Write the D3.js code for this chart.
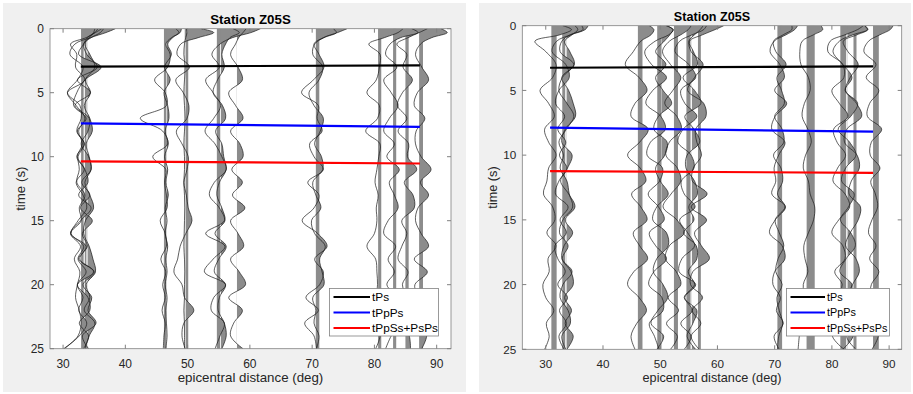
<!DOCTYPE html>
<html>
<head>
<meta charset="utf-8">
<script src="https://cdn.jsdelivr.net/npm/d3@7/dist/d3.min.js"></script>
<style>
body{margin:0;background:#fff;}
text{font-family:"Liberation Sans",Arial,sans-serif;fill:#262626;}
</style>
</head>
<body>
<svg id="fig" width="913" height="394"></svg>
<script>
// sample times (s) shared by every trace
var times=[0,0.3,0.7,1.2,2,3,4,5,6,7,8,9,10,11,12,13,14,15,16,17,18,19,20,21,22,23,24,25];
var xTicks=[30,40,50,60,70,80,90];
var yTicks=[0,5,10,15,20,25];
var legendLabels=["tPs","tPpPs","tPpSs+PsPs"];
var titleText="Station Z05S";

// left figure: epicentral distance of each trace, width of its shaded strip, amplitudes (deg)
var leftDist=[32.9,33.1,33.5,33.9,33.2,46.2,46.6,49.7,49.5,54.7,55.3,57.9,70.6,70.9,80.6,83.0,85.0,87.2];
var leftStrip=[0.4,0,0.25,0,0,0.35,0,0.4,0,0.5,0,0,0.55,0,0.5,0.5,0.5,0.6];
var leftAmps=[
 [5.5,4.0,1.5,-1.0,-1.8,0.3,-0.6,-2.2,-0.8,0.6,-0.4,0.2,-0.6,0.5,-0.8,0.3,0.9,-0.5,-1.6,0.4,-0.5,0.8,-0.6,0.3,-0.4,0.9,-0.3,-2.8],
 [2.5,2.0,0.8,0.2,-0.6,3.0,0.4,-0.9,-1.4,0.6,-0.8,0.3,-0.9,0.4,0.9,-0.6,1.4,-0.3,-1.9,0.6,-0.4,1.8,-0.8,0.9,1.2,-0.5,1.0,0.2],
 [3.0,2.5,1.0,-0.2,0.3,2.0,-1.2,0.9,-1.6,0.7,0.5,-0.6,0.6,1.0,-0.5,0.8,-0.7,1.2,-0.4,0.4,-1.0,1.5,-0.3,1.1,0.5,1.8,-0.4,0.6],
 [1.2,1.0,0.3,-0.4,0.4,1.2,-0.3,0.5,-0.5,0.4,0.8,-0.2,0.3,0.6,-0.4,0.4,1.0,-0.3,-0.6,0.3,0.9,1.3,-0.2,0.4,-0.5,1.2,0.3,-0.4],
 [3.0,2.0,0.5,-2.0,-1.0,-1.2,0.3,-2.5,-0.5,-0.3,-1.0,0.2,-0.8,-0.6,-1.0,0.3,-0.6,-0.3,-2.0,-0.4,-1.4,-0.5,-0.9,-1.2,-0.6,-0.3,-0.8,-3.0],
 [2.8,2.6,1.2,0.3,1.0,0.6,-1.5,0.2,0.4,-3.8,-0.2,0.6,-1.8,0.3,0.1,0.4,0.5,-0.6,0.2,0.4,-0.5,0.3,-0.2,0.2,-0.3,0.2,0.0,-0.1],
 [1.5,2.0,1.0,0.2,0.8,-0.3,0.6,-0.4,0.2,0.4,-0.2,0.3,-0.3,0.2,-0.1,0.3,-0.2,0.1,-0.2,0.2,-0.1,0.1,-0.2,0.1,-0.1,0.0,0.1,-0.1],
 [2.5,4.5,2.0,-0.8,-1.4,0.6,-1.6,-0.4,0.5,0.2,-1.5,-0.6,0.4,0.2,-0.3,0.1,0.4,1.0,0.0,-0.9,-1.3,-1.9,-0.6,-0.2,1.3,-0.3,-0.6,-0.1],
 [0.3,0.4,0.2,0.0,-0.1,0.1,0.0,-0.1,0.0,0.1,0.0,-0.1,0.0,0.0,-0.1,0.0,0.05,0.0,-0.05,-0.1,0.0,0.05,0.0,0.0,-0.1,0.0,0.0,0.0],
 [7.0,5.5,2.5,0.5,-0.8,0.4,-1.8,-0.6,0.6,-0.5,-1.9,-0.3,0.8,1.5,-0.4,-1.2,0.4,1.2,-1.8,1.3,-0.6,-2.0,1.4,-0.5,-0.9,1.2,0.5,-0.3],
 [2.0,3.0,1.5,0.8,0.2,0.6,-0.5,-1.2,0.3,0.8,-0.8,0.2,0.5,0.9,-0.2,-0.6,0.2,0.7,-0.9,0.9,-0.3,-1.0,0.8,-0.2,-0.4,0.6,0.9,0.2],
 [1.5,1.0,0.3,-0.2,-1.0,0.2,0.9,-1.3,-0.2,1.0,-1.0,0.5,1.0,-0.8,0.9,-0.7,1.3,-1.0,0.2,1.1,-1.0,0.4,1.4,-1.3,0.9,-0.5,-1.0,1.0],
 [5.0,3.5,1.2,-0.3,0.5,1.3,-0.4,-2.3,0.4,0.2,1.0,-1.0,-0.3,1.2,-1.3,0.5,-0.3,-2.2,0.3,1.8,-0.2,1.2,0.6,-1.6,0.4,-1.8,-0.3,0.1],
 [2.5,3.0,1.0,-0.5,-0.8,0.8,0.2,-1.4,-0.6,0.9,0.4,-0.5,0.6,0.8,-0.8,-0.3,0.5,-1.0,-0.5,1.2,0.3,0.7,1.0,-0.8,-0.3,-0.6,0.2,-0.2],
 [4.0,3.2,1.0,-1.5,0.3,0.2,-0.3,-1.8,0.2,-0.1,-2.0,0.3,0.1,-0.2,-0.5,0.0,-0.3,-0.2,-0.6,-1.8,-0.4,-0.2,-0.1,-0.3,-0.5,-0.2,0.3,-0.4],
 [3.0,4.0,1.2,-0.5,-1.2,0.6,-1.5,-0.3,0.8,-0.6,-1.5,0.2,-1.0,1.0,-0.6,0.2,0.8,-0.8,-1.5,0.4,-0.8,0.2,-1.0,0.6,-0.5,1.1,-0.3,-1.2],
 [3.5,2.2,0.4,-1.4,0.2,-0.4,1.1,-0.5,-1.3,0.2,-1.2,0.5,0.3,1.8,-0.2,1.2,1.4,-0.6,0.2,-0.6,-1.2,0.4,-0.5,0.3,1.0,-0.4,0.6,0.8],
 [3.5,4.5,2.0,0.2,-0.6,0.4,1.5,-0.3,-0.8,0.9,-0.5,-0.6,0.3,1.9,0.2,1.5,-0.2,-0.6,0.3,1.5,-0.8,1.3,-0.7,-0.3,-0.8,0.8,1.2,0.4]
];
// left figure: predicted phase times (s) at first and last distance
var leftLineDist=[32.85,87.3];
var leftPs=[2.97,2.86];
var leftPpPs=[7.39,7.67];
var leftPpSs=[10.36,10.53];

// right figure
var rightDist=[31.0,32.9,33.3,33.6,46.1,49.5,50.2,52.4,54.6,56.6,55.5,70.5,71.0,75.6,81.5,82.7,83.8,87.2];
var rightStrip=[0.9,0.5,0,0,0.8,0.7,0,0.7,0.7,0.5,0,0.8,0,1.4,1.0,0,0.5,1.0];
var rightAmps=[
 [2.0,3.5,1.5,-2.9,-1.0,0.8,0.2,-2.0,-0.5,0.5,-1.2,-0.5,0.8,-0.5,-0.8,-1.4,0.2,0.6,-0.8,0.8,-0.6,-0.4,-1.5,-1.0,0.4,-0.9,-0.4,-1.2],
 [4.5,4.0,1.5,-1.0,-1.8,0.6,1.2,-0.6,-1.2,0.4,-0.8,0.6,-0.5,0.8,-0.6,-1.2,1.0,-0.4,0.7,-1.3,-0.8,0.5,-0.8,0.9,-0.5,0.7,-0.6,0.3],
 [3.0,3.2,1.0,-0.5,-0.8,1.6,-0.4,-1.0,0.4,1.6,0.3,-1.0,-0.2,-0.8,0.4,0.8,1.4,-0.3,-0.9,0.6,-0.4,1.3,-0.3,-0.8,0.6,1.0,-0.5,0.2],
 [1.5,2.0,1.0,-0.3,0.6,1.4,-0.8,0.4,1.2,1.6,-0.2,-0.8,1.0,0.2,-1.0,0.4,1.5,-0.2,1.1,-0.4,-0.8,0.8,1.2,-0.3,0.9,-0.2,1.2,0.1],
 [2.0,2.8,2.3,0.5,-0.8,-2.2,0.2,1.6,-0.5,-1.2,1.8,0.3,-1.8,0.4,1.4,-1.1,0.5,1.6,-0.8,0.3,1.7,-0.7,-1.8,0.2,1.5,-0.2,-1.2,-0.5],
 [1.5,2.8,2.0,-0.4,-2.2,-1.0,1.6,-0.8,-2.0,0.6,1.4,-1.2,-1.8,0.9,0.4,-1.6,0.2,1.2,-1.4,-0.3,1.6,-0.6,-1.5,0.8,1.0,-1.4,-0.5,0.3],
 [1.0,2.0,1.5,0.5,-1.0,0.8,-1.0,0.3,1.8,-0.5,-1.3,1.0,0.6,-1.0,-0.2,1.2,-0.8,-1.5,0.9,1.2,-0.8,-1.4,0.3,1.1,-0.6,-1.8,0.4,-0.8],
 [3.0,2.5,1.2,-0.8,-2.0,-0.6,1.2,-0.2,-1.6,0.5,1.3,-0.8,-1.4,0.6,1.2,-0.5,-1.9,0.5,1.8,-0.8,-1.5,0.4,1.2,-1.0,0.8,-1.3,0.6,-0.6],
 [3.5,3.0,1.0,-1.2,-2.0,0.4,1.6,-1.0,-0.3,1.8,-0.6,-1.5,0.8,1.3,-0.9,-0.4,1.5,-1.2,0.2,1.4,-0.8,-1.3,1.6,-0.3,1.0,-1.0,0.8,-0.4],
 [4.5,3.0,0.8,-1.5,-1.2,0.9,-0.6,-1.8,1.0,1.4,-0.4,-0.2,0.6,-0.8,-1.0,1.6,-1.2,1.5,-0.6,0.6,2.0,-0.9,-1.3,0.8,-1.0,0.5,-1.2,0.2],
 [2.0,1.5,0.5,-0.5,0.3,1.0,-1.5,0.5,1.6,-1.2,0.4,1.4,-0.8,-1.0,0.5,1.0,-0.5,0.4,-1.4,0.8,0.9,-0.6,0.5,-1.3,0.9,0.2,-0.8,0.7],
 [3.5,3.0,1.5,-0.6,-1.3,0.4,1.2,-0.5,1.6,-0.4,-1.0,1.3,0.2,-0.6,-0.3,-1.0,1.4,-0.4,-1.4,0.8,1.3,-0.5,-0.8,0.5,-0.2,1.0,-0.6,0.3],
 [2.0,2.0,0.5,-1.2,-0.8,1.0,-0.6,0.2,0.7,-1.0,0.3,0.6,-1.2,0.1,0.4,-0.5,0.8,-0.9,-0.2,0.6,-0.4,-0.8,0.3,-0.6,-0.2,0.4,-0.3,-0.5],
 [2.5,2.8,1.2,-0.8,-1.2,-1.0,0.3,0.6,-0.4,-0.8,0.2,0.8,-0.2,-0.6,0.3,0.6,1.4,1.2,0.3,-0.5,-0.3,0.2,-0.6,-0.4,-0.8,-1.0,-1.3,-1.5],
 [4.0,3.0,0.8,-1.8,-2.2,0.4,0.6,-1.5,-0.2,1.3,-1.2,-0.6,0.9,-0.5,-1.3,0.8,1.6,-0.3,-1.5,0.4,0.8,-1.0,0.3,-0.5,0.5,-0.9,-1.4,0.6],
 [3.0,3.5,1.0,-1.4,-2.5,-0.8,0.8,-0.4,1.8,0.6,-1.6,0.4,1.5,-0.3,-1.0,1.2,0.2,-1.2,0.6,1.4,-0.2,-1.3,0.8,0.2,-1.0,0.5,1.0,-0.8],
 [2.0,2.5,0.6,-1.8,-1.0,0.8,-0.6,-1.4,0.5,1.4,-1.2,-1.6,0.6,1.0,-0.4,-0.8,1.2,0.8,-0.6,-1.4,0.4,1.0,-0.2,-1.0,0.3,0.8,-1.2,0.4],
 [3.5,3.0,1.2,-0.8,-1.6,0.5,-1.2,1.0,-0.6,-1.0,1.5,-0.3,-0.5,1.2,-0.4,0.4,0.8,-0.2,-0.8,0.5,-0.6,1.0,-0.3,-0.5,0.3,0.6,0.9,-0.2]
];
var rightLineDist=[30.75,87.2];
var rightPs=[3.25,3.14];
var rightPpPs=[7.88,8.19];
var rightPpSs=[11.23,11.37];

var phaseColors=["#000000","#0000ff","#ff0000"];
var fillGray="#8c8c8c";

var svg=d3.select("#fig");
var defs=svg.append("defs");

function drawPanel(p){
	var x=d3.scaleLinear().domain(p.xDomain).range([p.left,p.right]);
	var y=d3.scaleLinear().domain([0,25]).range([p.top,p.bottom]);
	var h=p.bottom-p.top;

	//figure background
	svg.append("rect").attr("x",p.bg[0]).attr("y",p.bg[1]).attr("width",p.bg[2]).attr("height",p.bg[3]).attr("fill","#f0f0f0");
	svg.append("rect").attr("x",p.left).attr("y",p.top).attr("width",p.right-p.left).attr("height",h).attr("fill","#fff");

	defs.append("clipPath").attr("id",p.id+"Clip")
		.append("rect").attr("x",p.left).attr("y",p.top).attr("width",p.right-p.left).attr("height",h);
	var g=svg.append("g").attr("clip-path","url(#"+p.id+"Clip)");

	//shaded strips
	p.dist.forEach(function(d,i){
		if(p.strip[i]>0){
			g.append("rect").attr("x",x(d)).attr("y",p.top)
				.attr("width",x(d+p.strip[i])-x(d)).attr("height",h).attr("fill",fillGray);
		}
	});
	//positive lobes
	p.dist.forEach(function(d,i){
		var cid=p.id+"Pos"+i;
		defs.append("clipPath").attr("id",cid)
			.append("rect").attr("x",x(d)).attr("y",p.top).attr("width",p.right-x(d)+20).attr("height",h);
		var area=d3.area().curve(d3.curveCatmullRom)
			.y(function(a,k){return y(times[k]);})
			.x0(x(d))
			.x1(function(a){return x(d+a);});
		g.append("g").attr("clip-path","url(#"+cid+")")
			.append("path").attr("d",area(p.amps[i])).attr("fill",fillGray);
	});
	//wiggle lines
	p.dist.forEach(function(d,i){
		var line=d3.line().curve(d3.curveCatmullRom)
			.x(function(a){return x(d+a);})
			.y(function(a,k){return y(times[k]);});
		g.append("path").attr("d",line(p.amps[i])).attr("fill","none")
			.attr("stroke","#1a1a1a").attr("stroke-width",0.7);
	});

	//phase lines
	var phaseLine=d3.line().x(function(v,k){return x(p.lineDist[k]);}).y(function(v){return y(v);});
	p.phases.forEach(function(ph,k){
		svg.append("path").attr("d",phaseLine(ph)).attr("fill","none")
			.attr("stroke",phaseColors[k]).attr("stroke-width",2.2);
	});

	//box and ticks
	var axisColor="#808080";
	svg.append("rect").attr("x",p.left).attr("y",p.top).attr("width",p.right-p.left).attr("height",h)
		.attr("fill","none").attr("stroke",axisColor).attr("stroke-width",0.8);
	xTicks.forEach(function(v){
		var xx=x(v);
		svg.append("line").attr("x1",xx).attr("x2",xx).attr("y1",p.bottom).attr("y2",p.bottom-4).attr("stroke",axisColor);
		svg.append("line").attr("x1",xx).attr("x2",xx).attr("y1",p.top).attr("y2",p.top+4).attr("stroke",axisColor);
		svg.append("text").attr("x",xx).attr("y",p.bottom+19).attr("text-anchor","middle")
			.style("font-size",p.tickFont+"px").text(v);
	});
	yTicks.forEach(function(v){
		var yy=y(v);
		svg.append("line").attr("x1",p.left).attr("x2",p.left+4).attr("y1",yy).attr("y2",yy).attr("stroke",axisColor);
		svg.append("line").attr("x1",p.right).attr("x2",p.right-4).attr("y1",yy).attr("y2",yy).attr("stroke",axisColor);
		svg.append("text").attr("x",p.left-6).attr("y",yy+p.tickFont*0.36).attr("text-anchor","end")
			.style("font-size",p.tickFont+"px").text(v);
	});

	//labels
	var cx=(p.left+p.right)/2;
	svg.append("text").attr("x",cx).attr("y",p.top-5).attr("text-anchor","middle")
		.style("font-size",p.titleFont+"px").style("font-weight","bold").style("fill","#000").text(titleText);
	svg.append("text").attr("x",cx).attr("y",p.bottom+33).attr("text-anchor","middle")
		.style("font-size",p.labelFont+"px").text("epicentral distance (deg)");
	svg.append("text").attr("transform","translate("+(p.left-25)+","+((p.top+p.bottom)/2)+") rotate(-90)")
		.attr("text-anchor","middle").style("font-size",p.labelFont+"px").text("time (s)");

	//legend
	var lg=p.legend;
	svg.append("rect").attr("x",lg.x).attr("y",lg.y).attr("width",lg.w).attr("height",lg.h)
		.attr("fill","#fff").attr("stroke","#808080").attr("stroke-width",0.8);
	legendLabels.forEach(function(lab,k){
		var yy=lg.y+8.5+k*15.5;
		svg.append("line").attr("x1",lg.x+4).attr("x2",lg.x+4+lg.len).attr("y1",yy).attr("y2",yy)
			.attr("stroke",phaseColors[k]).attr("stroke-width",2.2);
		svg.append("text").attr("x",lg.x+6+lg.len).attr("y",yy+lg.font*0.36)
			.style("font-size",lg.font+"px").style("fill","#000").text(lab);
	});
}

drawPanel({
	id:"left",bg:[3,3,463,389],left:50,right:451,top:28.7,bottom:348.7,xDomain:[27.9,92.3],
	dist:leftDist,strip:leftStrip,amps:leftAmps,lineDist:leftLineDist,phases:[leftPs,leftPpPs,leftPpSs],
	tickFont:12,labelFont:13.3,titleFont:13.3,
	legend:{x:329.5,y:288.5,w:109,h:47.5,len:36.5,font:11.8}
});
drawPanel({
	id:"right",bg:[479,3,432,389],left:522.3,right:901.7,top:25.7,bottom:349.3,xDomain:[25.9,92.2],
	dist:rightDist,strip:rightStrip,amps:rightAmps,lineDist:rightLineDist,phases:[rightPs,rightPpPs,rightPpSs],
	tickFont:11.7,labelFont:12.7,titleFont:12.6,
	legend:{x:786.5,y:288.5,w:103,h:47.5,len:34.5,font:10.8}
});
</script>
</body>
</html>
